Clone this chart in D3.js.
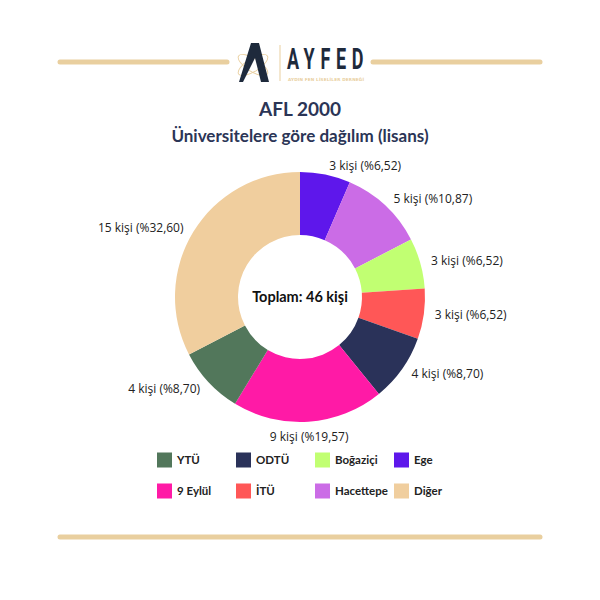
<!DOCTYPE html>
<html><head><meta charset="utf-8">
<script src="https://cdn.jsdelivr.net/npm/d3@7"></script>
<style>body{margin:0;background:#fff}svg{display:block}</style>
</head><body>
<svg id="c" width="600" height="600"></svg>
<script>
// ---- data ----
const slices = ["Ege","Hacettepe","Boğaziçi","İTÜ","ODTÜ","9 Eylül","YTÜ","Diğer"];
const counts = [3,5,3,3,4,9,4,15];
const percentLabels = ["6,52","10,87","6,52","6,52","8,70","19,57","8,70","32,60"];
const colors = ["#5E17EB","#CB6CE6","#C1FF72","#FF5757","#2A3259","#FF1AA6","#52775B","#F0CE9E"];
const legendOrder = ["YTÜ","ODTÜ","Boğaziçi","Ege","9 Eylül","İTÜ","Hacettepe","Diğer"];
const title = "AFL 2000";
const subtitle = "Üniversitelere göre dağılım (lisans)";
const total = d3.sum(counts);
const centerText = `Toplam: ${total} kişi`;

const svg = d3.select("#c");
const gold = "#E9CF9F", navy = "#1E2A3C";

// decorative lines
const lines = [[60,227,62],[373,540,62],[60,540,537]];
svg.selectAll("line.deco").data(lines).join("line")
  .attr("x1",d=>d[0]).attr("x2",d=>d[1]).attr("y1",d=>d[2]).attr("y2",d=>d[2])
  .attr("stroke",gold).attr("stroke-width",5).attr("stroke-linecap","round");

// logo
const logo = svg.append("g");
logo.append("ellipse").attr("cx",253).attr("cy",65).attr("rx",17).attr("ry",6.5)
  .attr("transform","rotate(32,253,65)").attr("fill","none").attr("stroke",gold).attr("stroke-width",0.9);
logo.append("ellipse").attr("cx",253).attr("cy",65).attr("rx",17).attr("ry",6.5)
  .attr("transform","rotate(-32,253,65)").attr("fill","none").attr("stroke",gold).attr("stroke-width",0.9);
logo.append("path").attr("d","M239,82 L251,43 L259,43 L269,82 L261,82 L255,58 L243,82 Z").attr("fill",navy);
logo.append("line").attr("x1",280).attr("x2",280).attr("y1",45).attr("y2",81).attr("stroke",gold).attr("stroke-width",1);
logo.append("text").attr("transform","translate(287,69) scale(0.6,1)").text("AYFED")
  .attr("font-family","'Roboto','DejaVu Sans',sans-serif")
  .attr("font-weight","bold").attr("font-size",30).attr("letter-spacing",9.5).attr("fill",navy);
logo.append("text").attr("x",288).attr("y",81).text("AYDIN FEN LİSELİLER DERNEĞİ")
  .attr("font-family","'DejaVu Sans',sans-serif").attr("font-weight","bold").attr("font-size",4.2)
  .attr("textLength",76).attr("lengthAdjust","spacing").attr("fill",gold);

// titles
const font = "'Lato','Noto Sans',sans-serif";
svg.append("text").attr("x",300).attr("y",116).attr("text-anchor","middle").text(title)
  .attr("font-family",font).attr("font-weight","bold").attr("font-size",19).attr("fill","#2B3556");
svg.append("text").attr("x",300).attr("y",142).attr("text-anchor","middle").text(subtitle)
  .attr("font-family",font).attr("font-weight","bold").attr("font-size",17).attr("fill","#2B3556");

// donut
const cx = 300, cy = 297, R = 125, r0 = 62, labelR = 134;
const pie = d3.pie().sort(null).value(d=>d.v);
const arcs = pie(counts.map((v,i)=>({v,i})));
const arc = d3.arc().innerRadius(r0).outerRadius(R);
const g = svg.append("g").attr("transform",`translate(${cx},${cy})`);
g.selectAll("path").data(arcs).join("path").attr("d",arc).attr("fill",d=>colors[d.data.i]);

const lab = d3.arc().innerRadius(labelR).outerRadius(labelR);
g.selectAll("text.lbl").data(arcs).join("text").attr("class","lbl")
  .each(function(d){
    const a = (d.startAngle+d.endAngle)/2;
    const s = Math.sin(a);
    const [x,y] = lab.centroid(d);
    d3.select(this).attr("x", x + (Math.abs(s)<0.15 ? 0 : (s>0 ? 2 : -2))).attr("y",y)
      .attr("text-anchor", Math.abs(s)<0.15 ? "middle" : (s>0 ? "start":"end"))
      .attr("dy", Math.abs(s)<0.15 ? "0.9em" : "0.35em");
  })
  .text(d=>`${d.data.v} kişi (%${percentLabels[d.data.i]})`)
  .attr("font-family","'Open Sans','Lato',sans-serif").attr("font-size",12).attr("fill","#222");

g.append("text").attr("text-anchor","middle").attr("dy","0.35em").text(centerText)
  .attr("font-family",font).attr("font-weight","bold").attr("font-size",14.5).attr("fill","#111");

// legend
const colX = d3.scalePoint().domain([0,1,2,3]).range([157,394]);
const rowY = d3.scalePoint().domain([0,1]).range([460,491]);
const leg = svg.selectAll("g.leg").data(legendOrder).join("g").attr("class","leg")
  .attr("transform",(d,k)=>`translate(${colX(k%4)},${rowY(Math.floor(k/4))})`);
leg.append("rect").attr("x",0).attr("y",-7.5).attr("width",15).attr("height",15)
  .attr("fill",d=>colors[slices.indexOf(d)]);
leg.append("text").attr("x",20).attr("dy","0.35em").text(d=>d)
  .attr("font-family",font).attr("font-weight","bold").attr("font-size",11.5).attr("fill","#222");
</script>
</body></html>
